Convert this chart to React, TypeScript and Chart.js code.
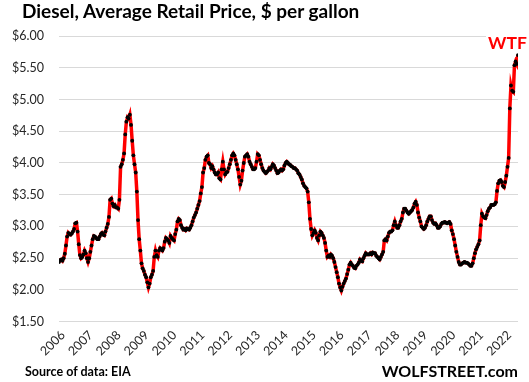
import React, { useEffect, useRef } from "react";
import { Chart, registerables } from "chart.js";

Chart.register(...registerables);

// Semi-monthly average US retail diesel prices ($/gal)
const d2006 = [2.44, 2.47, 2.48, 2.46, 2.50, 2.57, 2.70, 2.84, 2.90, 2.88, 2.87, 2.89, 2.92, 2.96, 3.05, 3.06, 2.92, 2.72, 2.55, 2.50, 2.52, 2.56, 2.62, 2.58];
const d2007 = [2.50, 2.44, 2.50, 2.60, 2.70, 2.80, 2.85, 2.84, 2.82, 2.80, 2.80, 2.84, 2.88, 2.90, 2.87, 2.86, 2.92, 2.98, 3.04, 3.15, 3.42, 3.44, 3.36, 3.32];
const d2008 = [3.34, 3.30, 3.30, 3.28, 3.42, 3.94, 3.98, 4.05, 4.15, 4.45, 4.65, 4.72, 4.70, 4.76, 4.60, 4.35, 4.12, 3.98, 3.85, 3.55, 3.10, 2.80, 2.62, 2.42];
const d2009 = [2.34, 2.30, 2.24, 2.20, 2.12, 2.04, 2.10, 2.20, 2.24, 2.30, 2.52, 2.62, 2.55, 2.52, 2.62, 2.66, 2.64, 2.62, 2.66, 2.76, 2.82, 2.80, 2.78, 2.74];
const d2010 = [2.85, 2.82, 2.80, 2.78, 2.88, 2.95, 3.08, 3.12, 3.10, 3.02, 2.98, 2.95, 2.96, 2.94, 2.97, 2.96, 2.95, 2.98, 3.02, 3.08, 3.14, 3.18, 3.22, 3.28];
const d2011 = [3.34, 3.40, 3.52, 3.62, 3.85, 3.92, 4.05, 4.10, 4.12, 4.00, 3.98, 3.92, 3.95, 3.90, 3.85, 3.82, 3.82, 3.85, 3.76, 3.74, 3.90, 4.02, 3.90, 3.82];
const d2012 = [3.85, 3.86, 3.92, 3.98, 4.05, 4.12, 4.15, 4.12, 4.05, 3.98, 3.90, 3.78, 3.66, 3.72, 3.88, 4.00, 4.10, 4.12, 4.14, 4.10, 4.02, 3.98, 3.94, 3.90];
const d2013 = [3.90, 3.92, 4.02, 4.14, 4.12, 4.05, 3.98, 3.92, 3.88, 3.86, 3.84, 3.86, 3.88, 3.92, 3.90, 3.94, 3.98, 3.96, 3.92, 3.88, 3.84, 3.85, 3.88, 3.90];
const d2014 = [3.88, 3.90, 3.96, 4.00, 4.02, 4.00, 3.98, 3.97, 3.95, 3.94, 3.92, 3.92, 3.90, 3.88, 3.84, 3.82, 3.78, 3.74, 3.68, 3.64, 3.62, 3.60, 3.55, 3.38];
const d2015 = [3.12, 2.96, 2.86, 2.90, 2.94, 2.90, 2.82, 2.78, 2.86, 2.92, 2.90, 2.86, 2.82, 2.74, 2.62, 2.52, 2.54, 2.52, 2.56, 2.54, 2.50, 2.44, 2.36, 2.28];
const d2016 = [2.20, 2.10, 2.04, 1.99, 2.05, 2.10, 2.14, 2.18, 2.25, 2.32, 2.40, 2.43, 2.40, 2.38, 2.35, 2.34, 2.38, 2.40, 2.43, 2.48, 2.46, 2.45, 2.50, 2.54];
const d2017 = [2.58, 2.56, 2.56, 2.56, 2.58, 2.56, 2.59, 2.58, 2.58, 2.54, 2.52, 2.50, 2.48, 2.52, 2.56, 2.60, 2.78, 2.80, 2.78, 2.84, 2.90, 2.92, 2.92, 2.94];
const d2018 = [3.02, 3.08, 3.02, 2.98, 2.98, 3.02, 3.08, 3.12, 3.22, 3.28, 3.28, 3.25, 3.22, 3.20, 3.22, 3.24, 3.26, 3.30, 3.36, 3.39, 3.34, 3.22, 3.14, 3.08];
const d2019 = [3.00, 2.98, 2.96, 2.98, 3.02, 3.08, 3.12, 3.16, 3.16, 3.10, 3.06, 3.04, 3.05, 3.02, 2.98, 2.98, 3.00, 3.04, 3.06, 3.06, 3.07, 3.06, 3.05, 3.06];
const d2020 = [3.07, 3.04, 2.94, 2.88, 2.80, 2.70, 2.60, 2.52, 2.44, 2.40, 2.40, 2.42, 2.43, 2.44, 2.43, 2.43, 2.42, 2.40, 2.38, 2.38, 2.42, 2.50, 2.58, 2.64];
const d2021 = [2.68, 2.72, 2.78, 3.02, 3.20, 3.16, 3.14, 3.13, 3.18, 3.24, 3.28, 3.30, 3.34, 3.34, 3.34, 3.35, 3.38, 3.56, 3.68, 3.72, 3.73, 3.70, 3.64, 3.62];
const d2022 = [3.70, 3.80, 3.94, 4.08, 4.86, 5.22, 5.14, 5.12, 5.54, 5.60, 5.56, 5.70];

const yearSeries: [number, number[]][] = [
  [2006, d2006], [2007, d2007], [2008, d2008], [2009, d2009], [2010, d2010],
  [2011, d2011], [2012, d2012], [2013, d2013], [2014, d2014], [2015, d2015],
  [2016, d2016], [2017, d2017], [2018, d2018], [2019, d2019], [2020, d2020],
  [2021, d2021], [2022, d2022],
];

const xStart = 2006;
const xEnd = 2022.46;
const yMin = 1.5;
const yMax = 6;
const yStep = 0.5;

const FONT = "Lato, 'Open Sans', sans-serif";

export default function App() {
  const ref = useRef<HTMLCanvasElement>(null);

  useEffect(() => {
    const points: { x: number; y: number }[] = [];
    yearSeries.forEach(([yr, arr]) => {
      arr.forEach((v, i) => points.push({ x: yr + i / 24, y: v }));
    });

    const chart = new Chart(ref.current!, {
      type: "line",
      data: {
        datasets: [
          {
            data: points,
            borderColor: "#ff0000",
            borderWidth: 3.5,
            pointRadius: 1.9,
            pointBackgroundColor: "#000000",
            pointBorderWidth: 0,
            pointHoverRadius: 1.9,
            tension: 0,
          },
        ],
      },
      options: {
        animation: false,
        responsive: false,
        maintainAspectRatio: false,
        layout: { padding: { left: 0, top: 36, right: 11, bottom: 0 } },
        plugins: {
          legend: { display: false },
          tooltip: { enabled: false },
          title: { display: false },
        },
        scales: {
          x: {
            type: "linear",
            min: xStart,
            max: xEnd,
            grid: { display: false, drawTicks: false },
            border: { display: false },
            ticks: {
              stepSize: 1,
              includeBounds: false,
              autoSkip: false,
              minRotation: 45,
              maxRotation: 45,
              padding: 6,
              labelOffset: 4,
              color: "#262626",
              font: { family: FONT, size: 12.5 },
              callback: (v: any) => String(v),
            },
            afterFit: (s: any) => {
              s.height = 60.3;
            },
          },
          y: {
            min: yMin,
            max: yMax,
            grid: { color: "#d9d9d9", drawTicks: false, lineWidth: 1 },
            border: { display: false },
            ticks: {
              stepSize: yStep,
              padding: 15,
              color: "#262626",
              font: { family: FONT, size: 12.5 },
              callback: (v: any) => "$" + Number(v).toFixed(2),
            },
            afterFit: (s: any) => {
              s.width = 59;
            },
          },
        },
      },
    });
    return () => chart.destroy();
  }, []);

  const abs: React.CSSProperties = { position: "absolute", lineHeight: 1, whiteSpace: "nowrap", fontFamily: FONT };

  return (
    <div style={{ position: "absolute", left: 0, top: 0, width: 529, height: 382, background: "#ffffff", overflow: "hidden" }}>
      <canvas ref={ref} width={529} height={382} style={{ position: "absolute", left: 0, top: 0 }} />
      <div style={{ ...abs, left: 22, top: 0.5, fontSize: 19, fontWeight: 700, color: "#000" }}>
        Diesel, Average Retail Price, $ per gallon
      </div>
      <div style={{ ...abs, left: 486, top: 30, width: 43, height: 20, background: "#fff" }} />
      <div style={{ ...abs, left: 486, top: 34, width: 43, textAlign: "center", fontSize: 17.5, fontWeight: 700, color: "#ff0000" }}>
        WTF
      </div>
      <div style={{ ...abs, left: 25, top: 366, fontSize: 12.5, fontWeight: 700, color: "#000" }}>
        Source of data: EIA
      </div>
      <div style={{ ...abs, right: 11, top: 363, fontSize: 16, fontWeight: 700, color: "#000" }}>
        WOLFSTREET.com
      </div>
    </div>
  );
}
